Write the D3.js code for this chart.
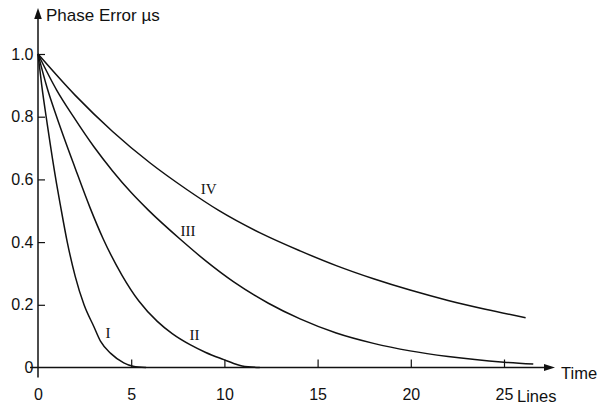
<!DOCTYPE html>
<html>
<head>
<meta charset="utf-8">
<script src="https://cdn.jsdelivr.net/npm/d3@7"></script>
<style>
  body { margin: 0; background: #fff; }
  text { font-family: "Liberation Sans", Arial, sans-serif; fill: #111; }
  .numeral { font-family: "Liberation Serif", "Times New Roman", serif; }
</style>
</head>
<body>
<svg id="chart" width="607" height="411"></svg>
<script>
// Phase error decay curves (time in lines, error in µs)
const seriesNames = ["I", "II", "III", "IV"];

const timeI  = [0, 0.2, 0.5, 1.0, 1.2, 1.57, 2.0, 2.47, 3.0, 3.36, 3.9, 4.6, 5.1, 5.8];
const errorI = [1.0, 0.90, 0.775, 0.585, 0.518, 0.40, 0.29, 0.20, 0.13, 0.083, 0.045, 0.015, 0.004, 0.0];

const timeII  = [0, 0.5, 1.0, 2.0, 2.79, 3.5, 4.5, 5.41, 6.4, 7.2, 8.18, 9.0, 9.97, 10.5, 10.95, 11.9];
const errorII = [1.0, 0.89, 0.80, 0.635, 0.51, 0.41, 0.295, 0.212, 0.147, 0.108, 0.072, 0.048, 0.025, 0.013, 0.005, 0.0];

const timeIII  = [0, 1.0, 1.9, 3.0, 4.0, 5.0, 5.92, 7.71, 9.0, 10.5, 12.36, 14.06, 16.0, 18.0, 19.96, 22.0, 25.0, 26.57];
const errorIII = [1.0, 0.885, 0.80, 0.704, 0.627, 0.558, 0.502, 0.405, 0.34, 0.273, 0.205, 0.155, 0.11, 0.077, 0.053, 0.035, 0.017, 0.011];

const timeIV  = [0, 2.0, 4.0, 6.0, 8.0, 9.67, 12.0, 14.06, 16.0, 18.0, 19.96, 22.0, 24.0, 26.16];
const errorIV = [1.0, 0.868, 0.753, 0.653, 0.567, 0.502, 0.427, 0.372, 0.325, 0.283, 0.247, 0.214, 0.186, 0.159];

// Curve label positions, in data units
const labelTime  = [3.75, 8.4, 8.05, 9.15];
const labelError = [0.11, 0.105, 0.435, 0.57];

const xTickValues = [0, 5, 10, 15, 20, 25];
const yTickValues = [0, 0.2, 0.4, 0.6, 0.8, 1.0];

const seriesData = [
  timeI.map((t, i) => [t, errorI[i]]),
  timeII.map((t, i) => [t, errorII[i]]),
  timeIII.map((t, i) => [t, errorIII[i]]),
  timeIV.map((t, i) => [t, errorIV[i]])
];

const svg = d3.select("#chart");
const ink = "#111";

const x = d3.scaleLinear().domain([0, 25]).range([38, 504]);
const y = d3.scaleLinear().domain([0, 1]).range([367.5, 54]);

// Axis lines with arrowheads
svg.append("line")
  .attr("x1", x(0)).attr("x2", x(0))
  .attr("y1", y(0) + 10).attr("y2", 17)
  .attr("stroke", ink).attr("stroke-width", 1.5);
svg.append("path")
  .attr("d", `M${x(0)},8 L${x(0) - 3.8},19 L${x(0) + 3.8},19 Z`)
  .attr("fill", ink);

svg.append("line")
  .attr("x1", 30).attr("x2", 546)
  .attr("y1", y(0)).attr("y2", y(0))
  .attr("stroke", ink).attr("stroke-width", 1.5);
svg.append("path")
  .attr("d", `M555,${y(0)} L544,${y(0) - 3.5} L544,${y(0) + 3.5} Z`)
  .attr("fill", ink);

// X axis ticks and labels
const xAxis = d3.axisBottom(x)
  .tickValues(xTickValues)
  .tickSizeInner(-8)
  .tickSizeOuter(0)
  .tickPadding(21)
  .tickFormat(d3.format("d"));
const gx = svg.append("g").attr("transform", `translate(0,${y(0)})`).call(xAxis);
gx.select(".domain").remove();
gx.selectAll(".tick line").attr("stroke", ink).attr("stroke-width", 1.2)
  .filter(d => d === 0).remove();
gx.selectAll(".tick text").attr("font-size", 16).attr("fill", ink)
  .style("font-family", '"Liberation Sans", Arial, sans-serif');

// Y axis ticks and labels
const yAxis = d3.axisLeft(y)
  .tickValues(yTickValues)
  .tickSizeInner(-7)
  .tickSizeOuter(0)
  .tickPadding(4.5)
  .tickFormat(d => d === 0 ? "0" : d3.format(".1f")(d));
const gy = svg.append("g").attr("transform", `translate(${x(0)},0)`).call(yAxis);
gy.select(".domain").remove();
gy.selectAll(".tick line").attr("stroke", ink).attr("stroke-width", 1.2)
  .filter(d => d === 0).remove();
gy.selectAll(".tick text").attr("font-size", 16).attr("fill", ink)
  .style("font-family", '"Liberation Sans", Arial, sans-serif');

// Axis titles
svg.append("text").attr("x", 46).attr("y", 20.5)
  .attr("font-size", 17).text("Phase Error µs");
svg.append("text").attr("x", 561).attr("y", 379)
  .attr("font-size", 16.5).text("Time");
svg.append("text").attr("x", 517).attr("y", 402)
  .attr("font-size", 16.5).text("Lines");

// Decay curves
const line = d3.line()
  .x(d => x(d[0]))
  .y(d => y(d[1]))
  .curve(d3.curveMonotoneX);

svg.append("g").selectAll("path")
  .data(seriesData)
  .join("path")
  .attr("d", line)
  .attr("fill", "none")
  .attr("stroke", ink)
  .attr("stroke-width", 1.5);

// Curve labels
svg.append("g").selectAll("text")
  .data(seriesNames)
  .join("text")
  .attr("class", "numeral")
  .attr("x", (d, i) => x(labelTime[i]))
  .attr("y", (d, i) => y(labelError[i]))
  .attr("text-anchor", "middle")
  .attr("dominant-baseline", "central")
  .attr("font-size", 15)
  .text(d => d);
</script>
</body>
</html>
